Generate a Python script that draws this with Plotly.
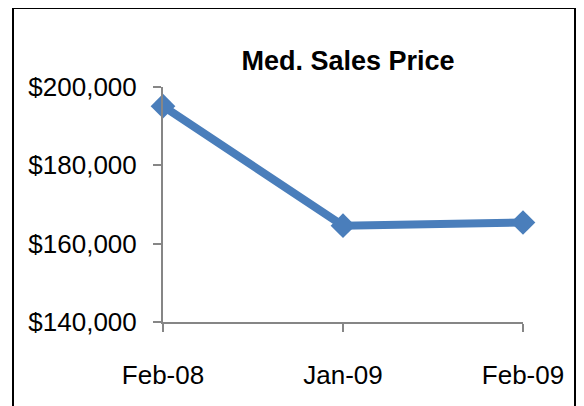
import plotly.graph_objects as go

# Median sales price
months = ["Feb-08", "Jan-09", "Feb-09"]
med_price = [195100, 164600, 165400]

y_ticks = [140000, 160000, 180000, 200000]
y_tick_text = ["$140,000", "$160,000", "$180,000", "$200,000"]

blue = "#4a7ebb"
axis_grey = "#868686"

# the page body adds an 8px margin, so the figure is sized to fit inside the window
W, H = 576, 398

fig = go.Figure(
    go.Scatter(
        x=months,
        y=med_price,
        mode="lines+markers",
        line=dict(color=blue, width=8),
        marker=dict(symbol="diamond", size=19, color=blue),
        cliponaxis=False,
        showlegend=False,
    )
)

fig.update_layout(
    width=W,
    height=H,
    margin=dict(l=155, r=61, t=79, b=84),
    paper_bgcolor="white",
    plot_bgcolor="white",
    title=dict(
        text="<b>Med. Sales Price</b>",
        font=dict(family="Liberation Sans Narrow, Arial Narrow, Liberation Sans, sans-serif", size=27, color="black"),
        x=340 / W,
        xanchor="center",
        y=1 - 53 / H,
        yanchor="middle",
    ),
    font=dict(family="Liberation Sans, Arial, sans-serif", size=26, color="black"),
)

fig.update_xaxes(
    type="category",
    range=[0, 2],
    showline=True,
    linecolor=axis_grey,
    linewidth=2,
    ticks="outside",
    ticklen=8,
    tickwidth=2,
    tickcolor=axis_grey,
    showgrid=False,
    zeroline=False,
    ticklabelstandoff=21,
)

fig.update_yaxes(
    range=[140000, 200000],
    tickvals=y_ticks,
    ticktext=y_tick_text,
    showline=True,
    linecolor=axis_grey,
    linewidth=2,
    ticks="outside",
    ticklen=8,
    tickwidth=2,
    tickcolor=axis_grey,
    showgrid=False,
    zeroline=False,
    ticklabelstandoff=11,
)

# black frame round the chart, like the pasted spreadsheet chart
fig.add_shape(
    type="rect",
    xref="paper",
    yref="paper",
    x0=(13 - 163) / 360,
    x1=(575 - 163) / 360,
    y0=(322 - 430) / 235,
    y1=(322 - 8) / 235,
    line=dict(color="black", width=2),
    fillcolor="rgba(0,0,0,0)",
    layer="below",
)

fig.write_html("out.html")
